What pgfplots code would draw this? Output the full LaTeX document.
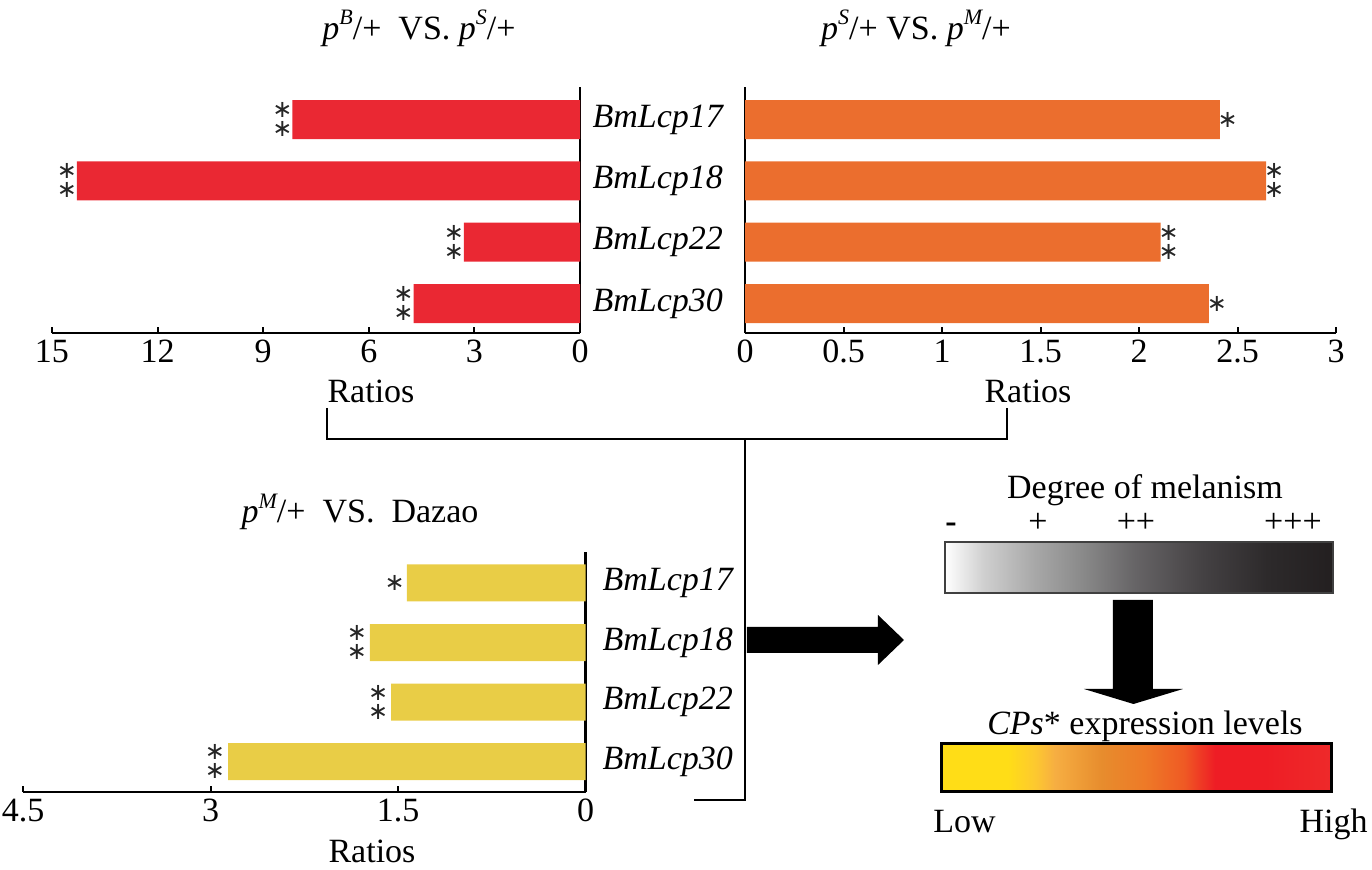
\documentclass[border=0pt]{standalone}
\usepackage{fontspec}
\setmainfont{Liberation Serif}
\newfontfamily\starfont{DejaVu Sans}
\usepackage{pgfplots}
\pgfplotsset{compat=1.18}

\definecolor{cred}{HTML}{EA2833}
\definecolor{corange}{HTML}{EB6E2E}
\definecolor{cyellow}{HTML}{E9CD46}

\definecolor{g1}{HTML}{CFCFCF}
\definecolor{g2}{HTML}{A8A8A8}
\definecolor{g3}{HTML}{888888}
\definecolor{g4}{HTML}{666466}
\definecolor{g5}{HTML}{454244}
\definecolor{g6}{HTML}{2D2A2B}
\definecolor{g7}{HTML}{231F20}
\pgfdeclarehorizontalshading{melan}{100bp}{color(0bp)=(white); color(25bp)=(white); color(30bp)=(g1); color(36.5bp)=(g2); color(43bp)=(g3); color(49.5bp)=(g4); color(58bp)=(g5); color(66.5bp)=(g6); color(75bp)=(g7); color(100bp)=(g7)}

\definecolor{e1}{HTML}{FFDD17}
\definecolor{e2}{HTML}{FDC830}
\definecolor{e3}{HTML}{F6AE42}
\definecolor{e4}{HTML}{E78C2D}
\definecolor{e5}{HTML}{EE7A27}
\definecolor{e6}{HTML}{EF5A24}
\definecolor{e7}{HTML}{EE1D25}
\definecolor{e8}{HTML}{EE2A2A}
\pgfdeclarehorizontalshading{expr}{100bp}{color(0bp)=(e1); color(25bp)=(e1); color(33.5bp)=(e1); color(37bp)=(e2); color(39.5bp)=(e3); color(45.5bp)=(e4); color(51bp)=(e5); color(56bp)=(e6); color(60bp)=(e7); color(66.5bp)=(e7); color(75bp)=(e8); color(100bp)=(e8)}

\newcommand\sups[1]{\raisebox{0.42em}{\fontsize{11bp}{11bp}\selectfont\itshape #1}}
\newcommand\mainfs{\fontsize{17bp}{20bp}\selectfont}

\pgfplotsset{
  hb/.style={
    scale only axis, xbar, clip=false,
    axis x line*=bottom,
    axis line style={-, line width=1.3bp, black},
    xtick pos=left, xtick align=inside,
    major tick length=3bp,
    xtick style={line width=1bp, black},
    ytick={0,1,2,3}, ytick style={draw=none},
    tick label style={font=\mainfs},
    /pgf/number format/assume math mode=true,
    enlargelimits=false,
  },
}
\tikzset{
  st/.style={font=\starfont\fontsize{12bp}{12bp}\selectfont, inner sep=0pt, text=black!85},
  st2/.style={font=\starfont\fontsize{12bp}{9.4bp}\selectfont, inner sep=0pt, text=black!85, align=center},
}

\begin{document}
\begin{tikzpicture}[font=\mainfs]
\useasboundingbox (0,0) rectangle (686bp,-435bp);

% Chart 1
\begin{axis}[hb, axis y line*=right, width=264bp, height=123bp, at={(290bp,-166.5bp)}, anchor=south east,
  bar width=19.5bp, x dir=reverse, xmin=0, xmax=15, xtick={0,3,6,9,12,15},
  ymin=-0.48, ymax=3.53, yticklabels={}]
\addplot[fill=cred, draw=none] coordinates {(8.17,3) (14.29,2) (3.30,1) (4.73,0)};
\node[st2, xshift=-5bp] at (axis cs:8.17,3) {∗\\∗};
\node[st2, xshift=-5bp] at (axis cs:14.29,2) {∗\\∗};
\node[st2, xshift=-5bp] at (axis cs:3.30,1) {∗\\∗};
\node[st2, xshift=-5bp] at (axis cs:4.73,0) {∗\\∗};
\end{axis}

% Chart 2
\begin{axis}[hb, axis y line*=left, width=295.5bp, height=123bp, at={(372.5bp,-166.5bp)}, anchor=south west,
  bar width=19.5bp, xmin=0, xmax=3, xtick={0,0.5,1,1.5,2,2.5,3},
  ymin=-0.48, ymax=3.53, yticklabels={BmLcp30,BmLcp22,BmLcp18,BmLcp17},
  yticklabel style={font=\mainfs\itshape, xshift=-4.5bp}]
\addplot[fill=corange, draw=none] coordinates {(2.41,3) (2.645,2) (2.11,1) (2.355,0)};
\node[st, xshift=4bp] at (axis cs:2.41,3) {∗};
\node[st2, xshift=4bp] at (axis cs:2.645,2) {∗\\∗};
\node[st2, xshift=4bp] at (axis cs:2.11,1) {∗\\∗};
\node[st, xshift=4bp] at (axis cs:2.355,0) {∗};
\end{axis}

% Chart 3
\begin{axis}[hb, axis y line*=right, width=281.25bp, height=120bp, at={(292.75bp,-396bp)}, anchor=south east,
  bar width=18.5bp, x dir=reverse, xmin=0, xmax=4.5, xtick={0,1.5,3,4.5},
  ymin=-0.51, ymax=3.52, yticklabels={BmLcp30,BmLcp22,BmLcp18,BmLcp17},
  yticklabel pos=right,
  yticklabel style={font=\mainfs\itshape, xshift=2bp}]
\addplot[fill=cyellow, draw=none] coordinates {(1.43,3) (1.725,2) (1.555,1) (2.86,0)};
\node[st, xshift=-6bp] at (axis cs:1.43,3) {∗};
\node[st2, xshift=-6.5bp] at (axis cs:1.725,2) {∗\\∗};
\node[st2, xshift=-6.5bp] at (axis cs:1.555,1) {∗\\∗};
\node[st2, xshift=-6.5bp] at (axis cs:2.86,0) {∗\\∗};
\end{axis}

\begin{scope}[x=0.5bp, y=-0.5bp]
\node[anchor=base] at (419,39) {\textit{p}\sups{B}/+\ \ VS. \textit{p}\sups{S}/+};
\node[anchor=base] at (916,39) {\textit{p}\sups{S}/+ VS. \textit{p}\sups{M}/+};
\node[anchor=base] at (360,523) {\textit{p}\sups{M}/+\ \ VS.\ \ Dazao};
\node[anchor=base] at (371,403) {Ratios};
\node[anchor=base] at (1028,403) {Ratios};
\node[anchor=base] at (372,863) {Ratios};
\draw[line width=1.3bp] (327,408) -- (327,439) -- (1007,439) -- (1007,408);
\draw[line width=1.3bp] (745,439) -- (745,800) -- (694,800);
\fill (747,627) -- (878,627) -- (878,615) -- (904,640) -- (878,665) -- (878,653) -- (747,653) -- cycle;
\fill (1113,600) -- (1153,600) -- (1153,689) -- (1183,689) -- (1133.5,704) -- (1084,689) -- (1113,689) -- cycle;
\shadedraw[shading=melan, draw=black!75, line width=1bp] (945,542) rectangle (1333,593);
\shadedraw[shading=expr, draw=black, line width=1.5bp] (942,744) rectangle (1332,792);
\node[anchor=base] at (1145,499) {Degree of melanism};
\node[anchor=base] at (951,533) {\textbf{-}};
\node[anchor=base] at (1038,533) {+};
\node[anchor=base] at (1136,533) {++};
\node[anchor=base] at (1293,533) {+++};
\node[anchor=base] at (1145,735) {\textit{CPs}* expression levels};
\node[anchor=base west, inner sep=0pt] at (933,833) {Low};
\node[anchor=base east, inner sep=0pt] at (1368,833) {High};
\end{scope}
\end{tikzpicture}
\end{document}
